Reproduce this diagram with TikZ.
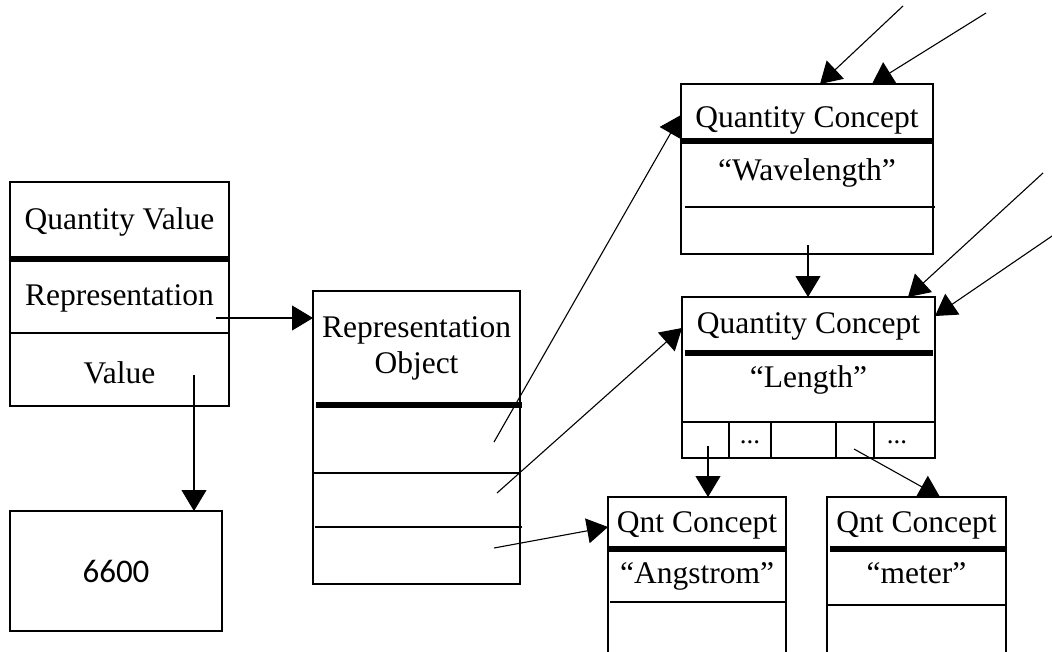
\documentclass[tikz,border=0pt]{standalone}
\usepackage{fontspec}
\setmainfont{Liberation Serif}
\newfontfamily\digitsfont{Carlito}
\usetikzlibrary{arrows.meta}
\begin{document}
\begin{tikzpicture}[x=1pt,y=-1pt,
  box/.style={draw, line width=1.2pt, inner sep=0pt, outer sep=0pt},
  bar/.style={line width=6.5pt, line cap=butt},
  rule/.style={line width=1.1pt},
  lbl/.style={font=\fontsize{31.5}{36}\selectfont, anchor=base, inner sep=0pt},
  num/.style={font=\digitsfont\fontsize{33}{36}\selectfont, anchor=base, inner sep=0pt},
  arr/.style={-{Triangle[length=21pt,width=25pt]}, line width=1.1pt}]
\useasboundingbox (0,0) rectangle (1052,651);
\clip (0,0) rectangle (1052,651);

% ---- Quantity Value record
\node[box, minimum width=219pt, minimum height=224pt] (qv) at (119.5,294) {};
\draw[bar] (10,259) -- (229,259);
\draw[rule] (10,333) -- (229,333);
\node[lbl] (qvt) at (119.5,229) {Quantity Value};
\node[lbl] (qvr) at (119.5,305) {Representation};
\node[lbl] (qvv) at (119.5,383) {Value};

% ---- literal value
\node[box, minimum width=212pt, minimum height=120pt] (six) at (116,571) {};
\node[num] (sixt) at (116,582) {6600};

% ---- Representation Object record
\node[box, minimum width=207pt, minimum height=293pt] (ro) at (416.5,437.5) {};
\draw[bar] (316,405) -- (522,405);
\draw[rule] (313,473) -- (520,473);
\draw[rule] (315,527) -- (522,527);
\node[lbl] (rot1) at (416.5,337) {Representation};
\node[lbl] (rot2) at (416.5,373) {Object};

% ---- Quantity Concept "Wavelength"
\node[box, minimum width=252pt, minimum height=170pt] (wl) at (807,169) {};
\draw[bar] (681,141) -- (934,141);
\draw[rule] (685,207) -- (935,207);
\node[lbl] (wlt) at (807,127) {Quantity Concept};
\node[lbl] (wln) at (807,180) {“Wavelength”};

% ---- Quantity Concept "Length"
\node[box, minimum width=253pt, minimum height=161pt] (len) at (808.5,377.5) {};
\draw[bar] (685,353) -- (933,353);
\draw[rule] (682,422) -- (935,422);
\foreach \cx in {729,771,836,874} \draw[rule] (\cx,422) -- (\cx,458);
\node[lbl] (lent) at (808.5,333) {Quantity Concept};
\node[lbl] (lenn) at (808.5,387) {“Length”};
\node[lbl, font=\fontsize{27}{30}\selectfont] (dots1) at (750,443) {...};
\node[lbl, font=\fontsize{27}{30}\selectfont] (dots2) at (897,443) {...};

% ---- Qnt Concept "Angstrom"
\node[box, minimum width=178pt, minimum height=203pt] (ang) at (697,598.5) {};
\draw[bar] (608,549) -- (786,549);
\draw[rule] (610,602) -- (786,602);
\node[lbl] (angt) at (697,532) {Qnt Concept};
\node[lbl] (angn) at (697,583) {“Angstrom”};

% ---- Qnt Concept "meter"
\node[box, minimum width=179pt, minimum height=203pt] (met) at (916.5,598.5) {};
\draw[bar] (830,549) -- (1006,549);
\draw[rule] (827,605) -- (1006,605);
\node[lbl] (mett) at (916.5,532) {Qnt Concept};
\node[lbl] (metn) at (916.5,583) {“meter”};

% ---- slot origins and entry points
\coordinate (qvrep) at (216,318);
\coordinate (qvval) at (194,375);
\coordinate (ro1) at (494,442);
\coordinate (ro2) at (497,493);
\coordinate (ro3) at (494,548);
\coordinate (wlin) at (681,115);
\coordinate (lenin) at (682,328);
\coordinate (angin) at (608,527);
\coordinate (wlbot) at (808,245);
\coordinate (c1) at (708,446);
\coordinate (c4) at (854,449);
\coordinate (metin) at (940,497);
\coordinate (ext1) at (903,6);
\coordinate (ext2) at (986,13);
\coordinate (ext3) at (1043,173);
\coordinate (ext4) at (1055,234);
\coordinate (wltop1) at (820,84);
\coordinate (wltop2) at (872,84);
\coordinate (lentop) at (908,297);
\coordinate (lenright) at (935,316);

% ---- references
\draw[arr] (qvrep) -- (qvrep -| ro.west);
\draw[arr] (qvval) -- (qvval |- six.north);
\draw[arr] (ro1) -- (wlin);
\draw[arr] (ro2) -- (lenin);
\draw[arr] (ro3) -- (angin);
\draw[arr] (wlbot) -- (wlbot |- len.north);
\draw[arr] (c1) -- (c1 |- ang.north);
\draw[arr] (c4) -- (metin);
\draw[arr] (ext1) -- (wltop1);
\draw[arr] (ext2) -- (wltop2);
\draw[arr] (ext3) -- (lentop);
\draw[arr] (ext4) -- (lenright);
\end{tikzpicture}
\end{document}
